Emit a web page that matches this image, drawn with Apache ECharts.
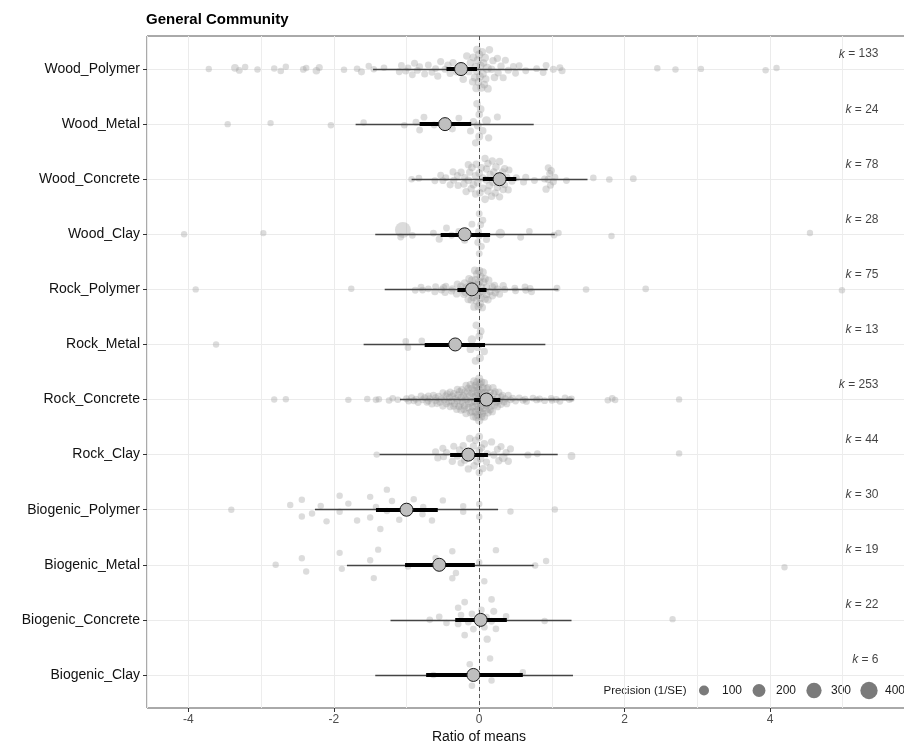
<!DOCTYPE html>
<html>
<head>
<meta charset="UTF-8">
<title>General Community</title>
<script src="https://cdn.jsdelivr.net/npm/echarts@6/dist/echarts.min.js"></script>
<style>
  html, body { margin: 0; padding: 0; background: #fff; }
  #main { width: 904px; height: 746px; }
</style>
</head>
<body>
<div id="main"></div>
<script>
// rows, top to bottom
var cats = ['Wood_Polymer', 'Wood_Metal', 'Wood_Concrete', 'Wood_Clay', 'Rock_Polymer', 'Rock_Metal',
  'Rock_Concrete', 'Rock_Clay', 'Biogenic_Polymer', 'Biogenic_Metal', 'Biogenic_Concrete', 'Biogenic_Clay'];
var kVals = [133, 24, 78, 28, 75, 13, 253, 44, 30, 19, 22, 6];

// model estimates, confidence and prediction intervals
var est  = [-0.25, -0.47, 0.28, -0.2, -0.1, -0.33, 0.1, -0.15, -1.0, -0.55, 0.02, -0.08];
var ciLo = [-0.45, -0.82, 0.05, -0.53, -0.3, -0.75, -0.07, -0.4, -1.42, -1.02, -0.33, -0.73];
var ciHi = [-0.03, -0.11, 0.51, 0.15, 0.1, 0.08, 0.29, 0.12, -0.57, -0.06, 0.38, 0.6];
var piLo = [-1.46, -1.7, -0.93, -1.43, -1.3, -1.59, -1.09, -1.37, -2.26, -1.82, -1.22, -1.43];
var piHi = [0.94, 0.75, 1.49, 1.04, 1.09, 0.91, 1.3, 1.08, 0.26, 0.75, 1.27, 1.29];

// effect sizes: [ratio of means, precision (1/SE)]
var woodPolymer = [[-3.72,10],[-3.36,40],[-3.3,20],[-3.22,12],[-3.05,12],[-2.82,12],[-2.73,15],[-2.66,12],[-2.42,18],[-2.38,12],[-2.24,35],[-2.2,25],[-1.86,12],[-1.68,15],[-1.62,25],[-1.52,12],[-1.45,12],[-1.31,15],[-1.1,20],[-1.07,20],[-1.01,25],[-0.98,20],[-0.92,20],[-0.89,25],[-0.85,20],[-0.82,20],[-0.75,25],[-0.7,20],[-0.65,20],[-0.6,20],[-0.57,25],[-0.53,25],[-0.47,25],[-0.43,30],[-0.4,25],[-0.36,30],[-0.31,30],[-0.25,30],[-0.22,35],[-0.17,35],[-0.14,30],[-0.12,40],[-0.09,35],[-0.08,40],[-0.06,45],[-0.05,50],[-0.04,45],[-0.03,40],[-0.03,50],[-0.02,45],[-0.01,40],[0,50],[0.01,45],[0.02,40],[0.03,50],[0.04,40],[0.05,45],[0.06,35],[0.07,40],[0.08,45],[0.09,35],[0.11,80],[0.12,40],[0.14,35],[0.17,35],[0.19,30],[0.21,35],[0.25,30],[0.26,30],[0.3,30],[0.33,25],[0.36,25],[0.4,25],[0.47,20],[0.5,20],[0.55,20],[0.64,20],[0.79,20],[0.88,20],[0.92,20],[1.02,25],[1.11,20],[1.14,25],[2.45,12],[2.7,12],[3.05,12],[3.94,12],[4.09,12]];
var woodMetal = [[-3.46,10],[-2.87,10],[-2.04,12],[-1.59,12],[-1.03,15],[-0.87,20],[-0.82,20],[-0.76,20],[-0.62,20],[-0.5,20],[-0.37,25],[-0.28,20],[-0.12,25],[-0.08,30],[-0.05,30],[-0.03,35],[-0.02,40],[0,35],[0,45],[0.02,40],[0.05,30],[0.1,70],[0.13,30],[0.25,25]];
var woodConcrete = [[-0.93,15],[-0.83,20],[-0.61,20],[-0.53,20],[-0.5,20],[-0.46,20],[-0.4,25],[-0.36,25],[-0.35,25],[-0.3,25],[-0.29,25],[-0.25,30],[-0.21,30],[-0.2,30],[-0.18,30],[-0.15,30],[-0.15,35],[-0.13,30],[-0.11,30],[-0.1,35],[-0.08,35],[-0.05,35],[-0.05,30],[-0.04,35],[-0.02,35],[0,35],[0.01,35],[0.03,35],[0.05,35],[0.05,30],[0.08,35],[0.08,30],[0.1,35],[0.1,30],[0.12,35],[0.12,30],[0.14,35],[0.15,30],[0.17,35],[0.18,30],[0.19,35],[0.2,30],[0.22,30],[0.23,35],[0.25,30],[0.26,35],[0.28,30],[0.28,35],[0.3,30],[0.32,30],[0.33,30],[0.35,30],[0.35,25],[0.38,25],[0.4,25],[0.41,25],[0.45,25],[0.51,25],[0.61,25],[0.64,25],[0.76,20],[0.9,25],[0.92,30],[0.95,25],[0.95,30],[0.97,25],[0.98,25],[0.99,30],[1.02,25],[1.04,25],[1.2,20],[1.57,15],[1.79,15],[2.12,20]];
var woodClay = [[-4.06,10],[-2.97,10],[-1.08,20],[-1.05,330],[-0.92,15],[-0.63,20],[-0.55,25],[-0.45,20],[-0.38,20],[-0.28,20],[-0.2,25],[-0.1,20],[-0.02,20],[-0.01,20],[0,20],[0,20],[0,25],[0.02,20],[0.03,20],[0.05,20],[0.1,25],[0.29,90],[0.57,20],[0.69,15],[1.03,20],[1.09,15],[1.82,12],[4.55,10]];
var rockPolymer = [[-3.9,10],[-1.76,12],[-0.88,20],[-0.8,20],[-0.78,20],[-0.7,20],[-0.61,25],[-0.6,20],[-0.52,25],[-0.49,25],[-0.47,25],[-0.46,25],[-0.38,30],[-0.37,25],[-0.31,30],[-0.3,30],[-0.25,30],[-0.25,35],[-0.21,35],[-0.2,35],[-0.19,35],[-0.17,35],[-0.15,40],[-0.14,35],[-0.12,40],[-0.12,35],[-0.11,35],[-0.1,40],[-0.08,40],[-0.08,35],[-0.07,40],[-0.06,40],[-0.05,45],[-0.05,40],[-0.04,40],[-0.03,45],[-0.02,45],[-0.02,40],[-0.01,45],[0,50],[0,45],[0,55],[0.01,45],[0.02,45],[0.02,50],[0.03,45],[0.04,40],[0.05,45],[0.05,40],[0.06,40],[0.08,40],[0.08,35],[0.1,40],[0.1,35],[0.12,35],[0.13,35],[0.15,30],[0.18,30],[0.18,35],[0.21,30],[0.22,30],[0.25,30],[0.28,25],[0.33,30],[0.35,25],[0.49,20],[0.5,20],[0.63,20],[0.64,20],[0.7,20],[0.72,20],[1.07,20],[1.47,15],[2.29,15],[4.99,12]];
var rockMetal = [[-3.62,10],[-1.01,15],[-0.98,15],[-0.79,15],[-0.12,40],[-0.1,60],[-0.05,40],[-0.04,35],[-0.02,40],[0,35],[0.01,45],[0.02,40],[0.07,30]];
var rockConcrete = [[-2.82,10],[-2.66,10],[-1.8,12],[-1.54,12],[-1.42,15],[-1.38,15],[-1.24,15],[-1.19,15],[-1.12,15],
  [-1.0,20],[-0.97,20],[-0.93,20],[-0.9,20],[-0.87,20],[-0.84,20],[-0.8,20],[-0.78,20],[-0.75,20],[-0.72,20],[-0.7,25],[-0.7,20],[-0.68,20],[-0.65,25],[-0.63,20],[-0.6,25],[-0.6,20],[-0.58,25],[-0.56,20],[-0.54,25],[-0.52,25],[-0.5,25],[-0.5,20],[-0.48,25],[-0.46,25],[-0.45,25],[-0.44,25],[-0.42,25],[-0.41,25],[-0.4,30],[-0.4,25],[-0.38,25],[-0.37,30],[-0.35,30],[-0.35,25],[-0.34,25],[-0.32,30],[-0.31,25],[-0.3,30],[-0.3,25],[-0.29,30],[-0.28,25],[-0.27,30],[-0.26,25],[-0.25,30],[-0.25,35],[-0.24,30],[-0.23,30],[-0.22,30],[-0.21,35],[-0.2,30],[-0.2,35],[-0.19,30],[-0.18,35],[-0.18,30],[-0.17,30],[-0.16,35],[-0.15,35],[-0.15,30],[-0.14,35],[-0.13,30],[-0.12,35],[-0.12,40],[-0.11,35],[-0.1,40],[-0.1,35],[-0.1,30],[-0.09,35],[-0.08,40],[-0.08,35],[-0.07,40],[-0.06,35],[-0.06,40],[-0.05,45],[-0.05,40],[-0.05,35],[-0.04,40],[-0.04,45],[-0.03,40],[-0.03,35],[-0.02,45],[-0.02,40],[-0.02,50],[-0.01,40],[-0.01,45],[0,50],[0,45],[0,40],[0,55],[0.01,45],[0.01,40],[0.02,45],[0.02,40],[0.03,45],[0.03,40],[0.03,50],[0.04,40],[0.04,45],[0.05,40],[0.05,45],[0.06,40],[0.07,40],[0.07,35],[0.08,40],[0.08,35],[0.09,35],[0.1,40],[0.1,35],[0.11,35],[0.12,35],[0.12,30],[0.13,35],[0.14,30],[0.15,35],[0.15,30],[0.16,30],[0.17,30],[0.18,30],[0.19,30],[0.2,30],[0.2,25],[0.21,30],[0.22,25],[0.24,30],[0.25,25],[0.25,30],[0.27,25],[0.28,25],[0.3,25],[0.3,30],[0.32,25],[0.34,25],[0.36,25],[0.38,20],[0.4,25],[0.43,20],[0.46,20],[0.5,20],[0.55,20],[0.6,20],
  [0.63,20],[0.65,20],[0.74,20],[0.79,20],[0.83,20],[0.9,20],[0.99,20],[1.0,15],[1.06,20],[1.11,20],[1.18,15],[1.24,20],[1.27,15],[1.77,15],[1.83,15],[1.87,12],[2.75,10]];
var rockClay = [[-1.41,12],[-0.6,25],[-0.57,25],[-0.5,25],[-0.49,25],[-0.45,25],[-0.37,30],[-0.35,25],[-0.3,30],[-0.27,30],[-0.25,25],[-0.22,30],[-0.2,30],[-0.18,30],[-0.15,30],[-0.13,35],[-0.1,35],[-0.08,30],[-0.07,35],[-0.05,30],[-0.03,35],[0,35],[0,30],[0,40],[0.02,35],[0.03,35],[0.05,30],[0.07,35],[0.1,30],[0.11,30],[0.15,30],[0.17,30],[0.2,30],[0.25,25],[0.27,30],[0.3,25],[0.33,70],[0.37,25],[0.4,30],[0.43,25],[0.67,25],[0.8,20],[1.27,40],[2.75,12]];
var bioPolymer = [[-3.41,10],[-2.6,12],[-2.44,12],[-2.44,12],[-2.3,12],[-2.18,12],[-2.1,12],[-1.92,12],[-1.92,12],[-1.8,12],[-1.68,12],[-1.5,12],[-1.5,12],[-1.42,12],[-1.36,12],[-1.27,12],[-1.27,12],[-1.2,12],[-1.1,12],[-0.9,12],[-0.78,12],[-0.77,12],[-0.65,12],[-0.5,12],[-0.22,12],[-0.22,12],[0,12],[0,12],[0.43,12],[1.04,12]];
var bioMetal = [[-2.8,10],[-2.44,10],[-2.38,10],[-1.92,10],[-1.89,10],[-1.5,10],[-1.45,10],[-1.39,10],[-0.98,12],[-0.6,12],[-0.37,12],[-0.37,12],[-0.32,12],[0,12],[0.07,12],[0.23,12],[0.77,12],[0.92,12],[4.2,10]];
var bioConcrete = [[-0.68,15],[-0.55,15],[-0.45,15],[-0.29,15],[-0.29,20],[-0.25,15],[-0.2,15],[-0.2,20],[-0.15,15],[-0.1,15],[-0.08,20],[0.03,15],[0.07,20],[0.1,15],[0.11,30],[0.17,15],[0.17,20],[0.2,25],[0.23,15],[0.37,15],[0.9,12],[2.66,10]];
var bioClay = [[-0.63,12],[-0.13,15],[-0.1,15],[0.15,12],[0.17,12],[0.6,12]];

var precisionTicks = [100, 200, 300, 400];

var rows = [woodPolymer, woodMetal, woodConcrete, woodClay, rockPolymer, rockMetal,
  rockConcrete, rockClay, bioPolymer, bioMetal, bioConcrete, bioClay];

var FONT = '"Liberation Sans", Arial, Helvetica, sans-serif';

// point diameter from precision (area grows linearly)
function sizeOf(p) {
  return Math.sqrt(33.7 + 0.663 * p);
}

// van der Corput, base 2
function vdc(i) {
  var r = 0, f = 0.5;
  while (i > 0) { r += f * (i % 2); i = Math.floor(i / 2); f /= 2; }
  return r;
}

function quantile(s, q) {
  var h = (s.length - 1) * q, lo = Math.floor(h);
  var hi = Math.min(lo + 1, s.length - 1);
  return s[lo] + (h - lo) * (s[hi] - s[lo]);
}

// quasirandom spread of each row (like ggbeeswarm)
function spread(pts, width) {
  var xs = pts.map(function (d) { return d[0]; });
  var n = xs.length;
  var mean = xs.reduce(function (a, b) { return a + b; }, 0) / n;
  var sd = Math.sqrt(xs.reduce(function (a, b) { return a + (b - mean) * (b - mean); }, 0) / Math.max(n - 1, 1));
  var s = xs.slice().sort(function (a, b) { return a - b; });
  var lo = Math.min(sd, (quantile(s, 0.75) - quantile(s, 0.25)) / 1.34);
  if (!(lo > 0)) lo = sd > 0 ? sd : 1;
  var bw = 0.9 * lo * Math.pow(n, -0.2) * 0.5;
  var dens = xs.map(function (x) {
    var t = 0;
    xs.forEach(function (y) { var z = (x - y) / bw; t += Math.exp(-0.5 * z * z); });
    return t;
  });
  var maxD = Math.max.apply(null, dens);
  var order = xs.map(function (x, i) { return i; }).sort(function (a, b) { return xs[a] - xs[b] || a - b; });
  var rank = [];
  order.forEach(function (idx, r) { rank[idx] = r; });
  return xs.map(function (x, i) {
    return (vdc(rank[i] + 1) - 0.5) * 2 * width * dens[i] / maxD;
  });
}

var pointData = [];
rows.forEach(function (pts, i) {
  var off = spread(pts, 0.4);
  pts.forEach(function (d, j) {
    pointData.push([d[0], i + off[j], d[1]]);
  });
});

var piLines = [], ciLines = [], estData = [], kData = [];
cats.forEach(function (c, i) {
  piLines.push({ coords: [[piLo[i], i], [piHi[i], i]] });
  ciLines.push({ coords: [[ciLo[i], i], [ciHi[i], i]] });
  estData.push([est[i], i]);
  kData.push([5.5, i - 0.27]);
});

var rowIdx = cats.map(function (c, i) { return i; });

var myChart = echarts.init(document.getElementById('main'));

// size legend, inside the panel at bottom right
var legendY = 690.5;
var legendEls = [{
  type: 'text', x: 645, y: legendY,
  style: { text: 'Precision (1/SE)', fill: '#1a1a1a', font: '11.5px ' + FONT, align: 'center', verticalAlign: 'middle' }
}];
var legX = [704, 759, 814, 869];
var legLab = [732, 786, 841, 885];
precisionTicks.forEach(function (v, i) {
  legendEls.push({
    type: 'circle', shape: { cx: legX[i], cy: legendY, r: sizeOf(v) / 2 },
    style: { fill: '#7a7a7a' }
  });
  legendEls.push({
    type: 'text', x: legLab[i], y: legendY,
    style: { text: String(v), fill: '#1a1a1a', font: '12px ' + FONT, align: i < 3 ? 'center' : 'left', verticalAlign: 'middle' }
  });
});
legendEls.push({
  type: 'text', x: 479, y: 737,
  style: { text: 'Ratio of means', fill: '#111', font: '14px ' + FONT, align: 'center', verticalAlign: 'middle' }
});

var option = {
  animation: false,
  backgroundColor: '#fff',
  title: {
    text: 'General Community',
    left: 141, top: 7,
    textStyle: { fontSize: 15, fontWeight: 'bold', color: '#000', fontFamily: FONT }
  },
  grid: {
    left: 147, width: 764, top: 36, bottom: 38,
    outerBoundsMode: 'none',
    show: true, borderColor: '#555', borderWidth: 1
  },
  xAxis: {
    type: 'value', min: -4.57, max: 5.94, splitNumber: 5,
    axisLine: { show: false, onZero: false },
    axisTick: { show: true, length: 4, lineStyle: { color: '#333' } },
    axisLabel: { color: '#4d4d4d', fontSize: 12, fontFamily: FONT, margin: 6, showMinLabel: false, showMaxLabel: false },
    splitLine: { show: true, lineStyle: { color: '#ebebeb', width: 1 } },
    minorTick: { show: false, splitNumber: 2 },
    minorSplitLine: { show: true, lineStyle: { color: '#ededed', width: 1 } }
  },
  yAxis: {
    type: 'value', inverse: true, min: -0.6, max: 11.6,
    axisLine: { show: false, onZero: false },
    axisTick: { show: true, length: 4, customValues: rowIdx, lineStyle: { color: '#333' } },
    axisLabel: {
      customValues: rowIdx, color: '#111', fontSize: 14, fontFamily: FONT, margin: 7,
      formatter: function (v) { return cats[Math.round(v)]; }
    },
    splitLine: { show: true, lineStyle: { color: '#ebebeb', width: 1 } }
  },
  graphic: legendEls,
  series: [
    {
      name: 'effects', type: 'scatter', z: 2,
      data: pointData,
      symbolSize: function (val) { return sizeOf(val[2]); },
      itemStyle: { color: 'rgba(150,150,150,0.42)', borderWidth: 0 },
      silent: true
    },
    {
      name: 'zero', type: 'scatter', z: 3, data: [],
      markLine: {
        silent: true, symbol: 'none', label: { show: false },
        lineStyle: { type: [4, 3], color: '#555', width: 1 },
        data: [{ xAxis: 0 }]
      }
    },
    {
      name: 'PI', type: 'lines', coordinateSystem: 'cartesian2d', z: 4,
      data: piLines,
      lineStyle: { color: '#444', width: 1.3, opacity: 1 },
      silent: true
    },
    {
      name: 'CI', type: 'lines', coordinateSystem: 'cartesian2d', z: 5,
      data: ciLines,
      lineStyle: { color: '#000', width: 4, opacity: 1 },
      silent: true
    },
    {
      name: 'estimate', type: 'scatter', z: 6,
      data: estData, symbolSize: 13,
      itemStyle: { color: '#bfbfbf', borderColor: '#1a1a1a', borderWidth: 1, opacity: 1 },
      silent: true
    },
    {
      name: 'k', type: 'scatter', z: 7,
      data: kData, symbolSize: 1,
      itemStyle: { color: 'rgba(0,0,0,0)' },
      label: {
        show: true, position: 'left', distance: 0,
        color: '#111', fontSize: 12, fontFamily: FONT,
        formatter: function (p) { return '{i|k} = ' + kVals[p.dataIndex]; },
        rich: { i: { fontStyle: 'italic', fontSize: 12, fontFamily: FONT, color: '#111' } }
      },
      silent: true
    }
  ]
};
myChart.setOption(option);
</script>
</body>
</html>
